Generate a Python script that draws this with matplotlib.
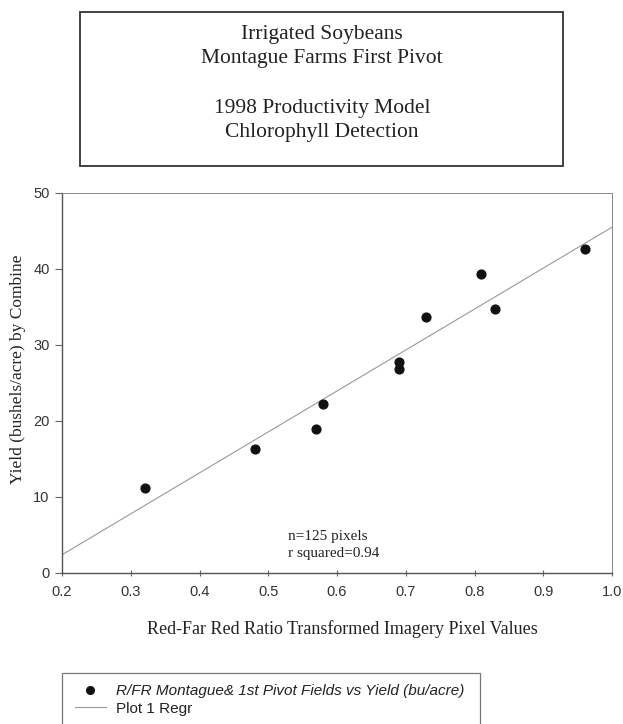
import matplotlib.pyplot as plt
from matplotlib.patches import Rectangle
from matplotlib.lines import Line2D

# R/FR ratio vs. yield
ratio = [0.32, 0.48, 0.57, 0.58, 0.69, 0.69, 0.73, 0.81, 0.83, 0.96]
yield_bu = [11.2, 16.3, 18.9, 22.2, 27.8, 26.8, 33.7, 39.3, 34.7, 42.6]

# regression line end points
regr_x = [0.2, 1.0]
regr_y = [2.4, 45.5]

title_lines = ["Irrigated Soybeans", "Montague Farms First Pivot",
               "1998 Productivity Model", "Chlorophyll Detection"]
xticks = [0.2, 0.3, 0.4, 0.5, 0.6, 0.7, 0.8, 0.9, 1.0]
xtick_labels = ["0.2", "0.3", "0.4", "0.5", "0.6", "0.7", "0.8", "0.9", "1.0"]
yticks = [0, 10, 20, 30, 40, 50]

SERIF = "Liberation Serif"
SANS = "Liberation Sans"
INK = "#222222"

W, H = 623, 724
fig = plt.figure(figsize=(W / 100, H / 100), dpi=100)


def fx(px):
    return px / W


def fy(py):
    return 1 - py / H


# title box
fig.patches.append(Rectangle((fx(80), fy(166)), fx(563) - fx(80), fy(12) - fy(166),
                             transform=fig.transFigure, fill=False,
                             edgecolor="#333333", linewidth=1.3))
for txt, py in zip(title_lines, [35, 58, 108, 132]):
    fig.text(fx(322), fy(py), txt, ha="center", va="center",
             fontsize=15.5, family=SERIF, color=INK)

# main axes
ax = fig.add_axes([fx(62), fy(573), fx(612) - fx(62), fy(193) - fy(573)])
ax.scatter(ratio, yield_bu, s=40, color="#111111", zorder=3)
ax.plot(regr_x, regr_y, color="#999999", linewidth=0.8)

ax.set_xlim(0.2, 1.0)
ax.set_ylim(0, 50)
ax.set_xticks(xticks)
ax.set_xticklabels(xtick_labels)
ax.set_yticks(yticks)
for lab in ax.get_xticklabels() + ax.get_yticklabels():
    lab.set_family(SANS)
    lab.set_fontsize(10.5)
    lab.set_color("#333333")
ax.tick_params(axis="x", direction="inout", length=5, width=0.8,
               color="#666666", pad=6)
ax.tick_params(axis="y", direction="out", length=5, width=0.8,
               color="#666666", pad=4)
for side in ["left", "bottom"]:
    ax.spines[side].set_color("#555555")
    ax.spines[side].set_linewidth(1.0)
for side in ["top", "right"]:
    ax.spines[side].set_color("#888888")
    ax.spines[side].set_linewidth(0.7)

ax.set_xlabel("Red-Far Red Ratio Transformed Imagery Pixel Values",
              family=SERIF, fontsize=13, color=INK)
ax.xaxis.set_label_coords(0.51, -0.125)
ax.set_ylabel("Yield (bushels/acre) by Combine", family=SERIF,
              fontsize=12.5, color=INK)
ax.yaxis.set_label_coords(-0.066, 0.535)

ax.text(0.528, 4.4, "n=125 pixels", family=SERIF, fontsize=11, color=INK)
ax.text(0.528, 2.1, "r squared=0.94", family=SERIF, fontsize=11, color=INK)

# legend box, cut off by the bottom of the page
fig.patches.append(Rectangle((fx(62), fy(740)), fx(480) - fx(62), fy(673) - fy(740),
                             transform=fig.transFigure, fill=False,
                             edgecolor="#777777", linewidth=0.9))
handles = [
    Line2D([], [], linestyle="", marker="o", markersize=5.5, color="#111111"),
    Line2D([], [], color="#999999", linewidth=0.8),
]
labels = ["R/FR Montague& 1st Pivot Fields vs Yield (bu/acre)", "Plot 1 Regr"]
fig.legend(handles, labels, loc="upper left",
           bbox_to_anchor=(fx(75), fy(684)), frameon=False,
           prop={"family": SANS, "style": "italic", "size": 11},
           handlelength=2.0, handletextpad=0.7, labelspacing=0.25,
           borderaxespad=0, borderpad=0)
leg_texts = fig.legends[0].get_texts()
leg_texts[1].set_style("normal")
for t in leg_texts:
    t.set_color(INK)

fig.savefig("out.png", dpi=100)
